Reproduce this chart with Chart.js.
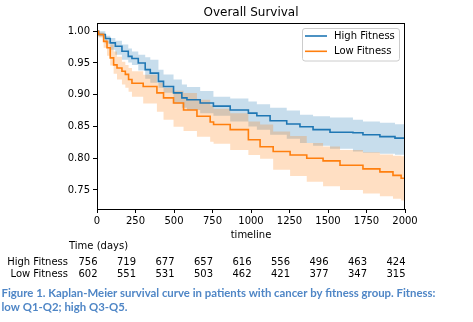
<!DOCTYPE html>
<html>
<head>
<meta charset="utf-8">
<script src="https://cdn.jsdelivr.net/npm/chart.js@4.4.0/dist/chart.umd.min.js"></script>
<style>
  body { margin: 0; background: #fff; }
  canvas { display: block; }
</style>
</head>
<body>
<canvas id="survivalChart" width="473" height="322"></canvas>
<script>
// Kaplan-Meier estimates (days, survival, 95% CI)
var highDays  = [0, 10, 54, 86, 119, 162, 203, 227, 268, 313, 346, 399, 432, 497, 551, 584, 670, 756, 865, 983, 1038, 1124, 1232, 1318, 1403, 1513, 1662, 1727, 1837, 1935, 2000];
var highSurv  = [1.0, 0.995, 0.9885, 0.9817, 0.9763, 0.9684, 0.9605, 0.957, 0.950, 0.9395, 0.934, 0.921, 0.913, 0.903, 0.895, 0.892, 0.887, 0.882, 0.876, 0.871, 0.867, 0.859, 0.854, 0.8495, 0.845, 0.841, 0.840, 0.837, 0.834, 0.8317, 0.8306];
var highUpper = [1.0, 1.0, 0.993, 0.9895, 0.985, 0.979, 0.973, 0.968, 0.963, 0.959, 0.9553, 0.9395, 0.932, 0.924, 0.916, 0.912, 0.906, 0.897, 0.894, 0.8895, 0.885, 0.8795, 0.875, 0.8685, 0.866, 0.864, 0.8605, 0.858, 0.856, 0.8535, 0.853];
var highLower = [1.0, 0.9916, 0.9806, 0.971, 0.963, 0.955, 0.9506, 0.947, 0.938, 0.925, 0.919, 0.911, 0.903, 0.886, 0.8795, 0.876, 0.871, 0.867, 0.858, 0.850, 0.845, 0.837, 0.8306, 0.824, 0.8195, 0.8148, 0.8105, 0.8085, 0.807, 0.8053, 0.805];

var lowDays  = [0, 10, 43, 65, 86, 108, 130, 162, 184, 205, 227, 300, 389, 432, 497, 562, 649, 735, 757, 865, 983, 1059, 1144, 1254, 1362, 1468, 1578, 1727, 1837, 1922, 1975, 2000];
var lowSurv  = [1.0, 0.995, 0.984, 0.974, 0.958, 0.947, 0.942, 0.937, 0.932, 0.924, 0.918, 0.913, 0.903, 0.895, 0.887, 0.876, 0.866, 0.857, 0.853, 0.845, 0.829, 0.818, 0.8105, 0.805, 0.800, 0.7958, 0.789, 0.7832, 0.7785, 0.773, 0.7685, 0.766];
var lowUpper = [1.0, 0.998, 0.9916, 0.985, 0.979, 0.968, 0.960, 0.952, 0.947, 0.942, 0.937, 0.9316, 0.919, 0.9106, 0.9064, 0.9027, 0.892, 0.883, 0.878, 0.871, 0.858, 0.853, 0.842, 0.835, 0.824, 0.8184, 0.813, 0.8093, 0.806, 0.8037, 0.803, 0.8026];
var lowLower = [1.0, 0.990, 0.974, 0.9616, 0.946, 0.933, 0.924, 0.916, 0.911, 0.9048, 0.897, 0.886, 0.873, 0.8606, 0.8495, 0.843, 0.834, 0.826, 0.8227, 0.813, 0.805, 0.799, 0.782, 0.772, 0.763, 0.756, 0.750, 0.7445, 0.740, 0.736, 0.7335, 0.7316];

// axis ticks
var xTicks = [0, 250, 500, 750, 1000, 1250, 1500, 1750, 2000];
var yTicks = [0.75, 0.80, 0.85, 0.90, 0.95, 1.00];

// numbers at risk
var atRiskTimes = [0, 250, 500, 750, 1000, 1250, 1500, 1750, 2000];
var highAtRisk = [756, 719, 677, 657, 616, 556, 496, 463, 424];
var lowAtRisk  = [602, 551, 531, 503, 462, 421, 377, 347, 315];

var caption = [
  "Figure 1. Kaplan-Meier survival curve in patients with cancer by fitness group. Fitness:",
  "low Q1-Q2; high Q3-Q5."
];

function toPoints(days, vals) {
  return days.map(function (d, i) { return { x: d, y: vals[i] }; });
}

var BLUE = "#1f77b4";
var ORANGE = "#ff7f0e";
var FONT = "'DejaVu Sans', sans-serif";

function lineSet(label, days, vals, color, order) {
  return { label: label, data: toPoints(days, vals), borderColor: color, borderWidth: 1.6,
           stepped: true, pointRadius: 0, fill: false, order: order };
}
function bandSet(days, vals, color, fill, order) {
  return { label: "", data: toPoints(days, vals), borderWidth: 0, borderColor: "transparent",
           backgroundColor: color, stepped: true, pointRadius: 0, fill: fill, order: order, band: true };
}

// title, box, legend and at-risk table
var extras = {
  id: "extras",
  afterDatasetsDraw: function (chart) {
    var ctx = chart.ctx, a = chart.chartArea;
    ctx.save();
    ctx.strokeStyle = "#000";
    ctx.lineWidth = 1;
    ctx.strokeRect(a.left + 0.5, a.top + 0.5, a.right - a.left - 1, a.bottom - a.top);
    ctx.restore();
  },
  afterDraw: function (chart) {
    var ctx = chart.ctx, a = chart.chartArea, xs = chart.scales.x;
    ctx.save();
    ctx.fillStyle = "#000";
    ctx.textBaseline = "middle";

    ctx.font = "12px " + FONT;
    ctx.textAlign = "center";
    ctx.fillText("Overall Survival", (a.left + a.right) / 2, 13);

    // legend
    var lx = 302.5, ly = 28.5, lw = 97, lh = 32.5;
    ctx.beginPath();
    ctx.roundRect(lx, ly, lw, lh, 2.5);
    ctx.fillStyle = "rgba(255,255,255,0.8)";
    ctx.fill();
    ctx.strokeStyle = "#cccccc";
    ctx.lineWidth = 1;
    ctx.stroke();
    var items = chart.data.datasets.filter(function (d) { return !d.band; });
    ctx.font = "10px " + FONT;
    ctx.textAlign = "left";
    items.forEach(function (d, i) {
      var y = 36 + i * 15.3;
      ctx.strokeStyle = d.borderColor;
      ctx.lineWidth = 1.6;
      ctx.beginPath();
      ctx.moveTo(305, y);
      ctx.lineTo(327, y);
      ctx.stroke();
      ctx.fillStyle = "#000";
      ctx.fillText(d.label, 334, y);
    });

    // at-risk table
    ctx.fillStyle = "#000";
    ctx.font = "10px " + FONT;
    ctx.textAlign = "left";
    ctx.fillText("Time (days)", 69, 246);
    ctx.textAlign = "right";
    ctx.fillText("High Fitness", 68, 262);
    ctx.fillText("Low Fitness", 68, 274);
    ctx.textAlign = "center";
    atRiskTimes.forEach(function (t, i) {
      var x = xs.getPixelForValue(t) - 9;
      ctx.fillText(String(highAtRisk[i]), x, 262);
      ctx.fillText(String(lowAtRisk[i]), x, 274);
    });

    // caption
    ctx.fillStyle = "#4f86c6";
    ctx.font = "bold 11.4px Lato, sans-serif";
    ctx.textAlign = "left";
    ctx.fillText(caption[0], 1.5, 293, 434);
    ctx.fillText(caption[1], 1.5, 307.5);
    ctx.restore();
  }
};

var canvas = document.getElementById("survivalChart");
var survivalChart = new Chart(canvas, {
  type: "line",
  data: {
    datasets: [
      lineSet("High Fitness", highDays, highSurv, BLUE, 2),
      lineSet("Low Fitness", lowDays, lowSurv, ORANGE, 1),
      bandSet(highDays, highUpper, "rgba(31,119,180,0.25)", "+1", 6),
      bandSet(highDays, highLower, "transparent", false, 5),
      bandSet(lowDays, lowUpper, "rgba(255,127,14,0.25)", "+1", 4),
      bandSet(lowDays, lowLower, "transparent", false, 3)
    ]
  },
  options: {
    responsive: false,
    animation: false,
    devicePixelRatio: 1,
    events: [],
    layout: { padding: { top: 23, right: 68, bottom: 81, left: 0 } },
    plugins: {
      legend: { display: false },
      title: { display: false },
      tooltip: { enabled: false }
    },
    scales: {
      x: {
        type: "linear",
        min: 0,
        max: 2000,
        afterBuildTicks: function (s) { s.ticks = xTicks.map(function (v) { return { value: v }; }); },
        afterFit: function (s) { s.height = 32; },
        grid: { drawOnChartArea: false, tickLength: 4, color: "#000" },
        border: { display: true, color: "#000", width: 1 },
        ticks: { color: "#000", font: { family: FONT, size: 10 }, padding: 2, maxRotation: 0,
                 callback: function (v) { return String(v); } },
        title: { display: true, text: "timeline", color: "#000", font: { family: FONT, size: 10 }, padding: { top: 0, bottom: 0 } }
      },
      y: {
        min: 0.72,
        max: 1.013,
        afterBuildTicks: function (s) { s.ticks = yTicks.map(function (v) { return { value: v }; }); },
        afterFit: function (s) { s.width = 97; },
        grid: { drawOnChartArea: false, tickLength: 4, color: "#000" },
        border: { display: true, color: "#000", width: 1 },
        ticks: { color: "#000", font: { family: FONT, size: 10 }, padding: 3,
                 callback: function (v) { return v.toFixed(2); } }
      }
    }
  },
  plugins: [extras]
});
</script>
</body>
</html>
